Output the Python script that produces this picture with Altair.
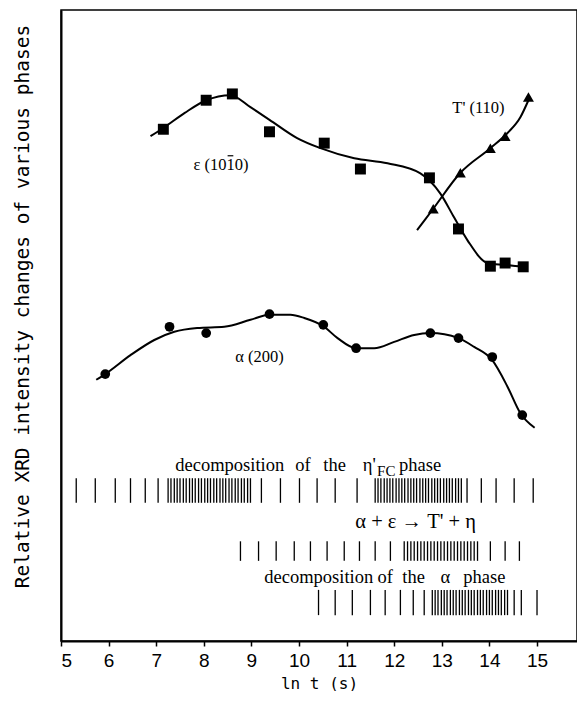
import altair as alt
import pandas as pd

# ---- epsilon (10-10) measured points (ln t, relative intensity, arbitrary units 0-100)
eps_x = [7.15, 8.05, 8.60, 9.38, 10.53, 11.29, 12.74, 13.35, 14.02, 14.33, 14.71]
eps_y = [81.1, 85.7, 86.7, 80.7, 78.9, 74.8, 73.4, 65.3, 59.4, 59.9, 59.3]
# fitted curve through epsilon data
eps_cx = [6.88, 7.15, 7.60, 8.05, 8.56, 8.98, 9.38, 9.96, 10.45, 11.16, 11.86, 12.55,
          12.97, 13.26, 13.54, 13.96, 14.31, 14.73]
eps_cy = [80.0, 81.3, 83.7, 85.7, 86.5, 84.6, 82.6, 79.7, 78.1, 76.5, 75.7, 74.1,
          70.9, 67.1, 63.5, 59.9, 59.6, 59.3]

# ---- T' (110)
tp_x = [12.82, 13.39, 14.02, 14.33, 14.82]
tp_y = [68.5, 74.2, 78.1, 80.0, 86.2]
tp_cx = [12.48, 12.82, 13.39, 14.02, 14.38, 14.65, 14.82]
tp_cy = [65.1, 68.5, 74.2, 78.1, 80.5, 83.0, 85.7]

# ---- alpha (200)
al_x = [5.93, 7.28, 8.05, 9.38, 10.51, 11.20, 12.76, 13.35, 14.06, 14.69]
al_y = [42.3, 49.8, 48.8, 51.8, 50.1, 46.4, 48.8, 48.0, 45.0, 35.8]
al_cx = [5.74, 5.93, 6.46, 6.96, 7.38, 7.86, 8.43, 8.98, 9.38, 9.82, 10.11, 10.51,
         10.81, 11.20, 11.58, 12.00, 12.42, 12.76, 13.35, 13.68, 14.06, 14.38, 14.65, 14.95]
al_cy = [41.4, 42.3, 45.3, 47.7, 49.0, 49.6, 49.8, 50.9, 51.7, 51.7, 51.2, 49.9,
         48.0, 46.4, 46.4, 47.4, 48.5, 48.8, 48.0, 46.6, 44.5, 40.3, 36.1, 33.8]

# ---- process "barcode" rows: x positions of each vertical stroke
row1_x = [5.32, 5.72, 6.14, 6.46, 6.77, 7.04,
          7.25, 7.31, 7.38, 7.44, 7.50, 7.57, 7.63, 7.70, 7.76, 7.82, 7.89, 7.95, 8.02, 8.08,
          8.14, 8.21, 8.27, 8.34, 8.40, 8.46, 8.53, 8.59, 8.66, 8.72, 8.79, 8.85, 8.92, 8.98,
          9.21, 9.61, 10.01, 10.38, 10.76, 11.22,
          11.60, 11.66, 11.72, 11.79, 11.85, 11.91, 11.97, 12.04, 12.10, 12.16, 12.22, 12.29,
          12.35, 12.41, 12.47, 12.54, 12.60, 12.66, 12.72, 12.79, 12.85, 12.91, 12.97, 13.04,
          13.10, 13.16, 13.22, 13.29, 13.35, 13.41,
          13.53, 13.83, 14.14, 14.52, 14.92]
row2_x = [8.77, 9.15, 9.52, 9.90, 10.24, 10.59, 10.95, 11.27, 11.60, 11.92, 12.21,
          12.28, 12.35, 12.42, 12.49, 12.56, 12.63, 12.70, 12.77, 12.84, 12.91, 12.98,
          13.05, 13.12, 13.19, 13.26, 13.33, 13.40, 13.47, 13.54, 13.61, 13.68, 13.75,
          14.02, 14.33, 14.63]
row3_x = [10.41, 10.76, 11.12, 11.50, 11.81, 12.13, 12.40, 12.63,
          12.80, 12.86, 12.92, 12.99, 13.05, 13.11, 13.18, 13.24, 13.30, 13.37, 13.43, 13.49,
          13.56, 13.62, 13.68, 13.75, 13.81, 13.87, 13.94, 14.00, 14.06, 14.13, 14.19, 14.25,
          14.32, 14.38, 14.52, 14.67, 15.00]
row_lo = [21.9, 12.7, 4.1]
row_hi = [25.8, 15.8, 8.1]

x_ticks = [5, 6, 7, 8, 9, 10, 11, 12, 13, 14, 15]

# ---- annotation texts
curve_labels = ["\u03b5 (1010)", "T' (110)", "\u03b1 (200)"]
curve_lab_x = [8.36, 13.77, 9.17]
curve_lab_y = [75.4, 84.5, 45.0]
# bar over the second "1" of (10-10)
bar_x = [8.50]
bar_x2 = [8.62]
bar_y = [76.9]

# row captions, word by word (the original has very wide word spacing)
words = ["decomposition", "of", "the", "\u03b7'", "phase",
         "decomposition", "of", "the", "\u03b1", "phase"]
words_x = [7.40, 9.92, 10.51, 11.34, 12.10,
           9.27, 11.65, 12.17, 12.97, 13.45]
words_y = [27.9, 27.9, 27.9, 27.9, 27.9,
           10.1, 10.1, 10.1, 10.1, 10.1]
sub_text = ["FC"]
sub_x = [11.64]
sub_y = [27.0]
center_texts = ["\u03b1 + \u03b5 \u2192 T' + \u03b7"]
center_x = [12.45]
center_y = [18.9]

# ---------------------------------------------------------------
xs = alt.Scale(domain=[5, 15.84], nice=False, zero=False)
ys = alt.Scale(domain=[0, 100], nice=False, zero=False)

X = alt.X("x:Q", scale=xs,
          axis=alt.Axis(values=x_ticks, title="ln t (s)", grid=False, format="d",
                        labelFont="Liberation Sans", labelFontSize=19, labelColor="black",
                        labelPadding=5, tickSize=5, tickWidth=1.5, tickColor="black",
                        domainColor="black", domainWidth=2,
                        titleFont="DejaVu Sans Mono", titleFontSize=16, titleFontWeight="normal",
                        titleColor="black", titlePadding=5))
Y = alt.Y("y:Q", scale=ys,
          axis=alt.Axis(labels=False, ticks=False, grid=False,
                        title="Relative XRD intensity changes of various phases",
                        domainColor="black", domainWidth=2,
                        titleFont="DejaVu Sans Mono", titleFontSize=19.5, titleFontWeight="normal",
                        titleColor="black", titlePadding=29, titleY=296))

eps_pts = pd.DataFrame({"x": eps_x, "y": eps_y})
eps_cur = pd.DataFrame({"x": eps_cx, "y": eps_cy})
tp_pts = pd.DataFrame({"x": tp_x, "y": tp_y})
tp_cur = pd.DataFrame({"x": tp_cx, "y": tp_cy})
al_pts = pd.DataFrame({"x": al_x, "y": al_y})
al_cur = pd.DataFrame({"x": al_cx, "y": al_cy})

rows = []
for i, xsr in enumerate([row1_x, row2_x, row3_x]):
    for v in xsr:
        rows.append({"x": v, "y": row_lo[i], "y2": row_hi[i]})
bars = pd.DataFrame(rows)

lab_df = pd.DataFrame({"x": curve_lab_x, "y": curve_lab_y, "t": curve_labels})
ovl_df = pd.DataFrame({"x": bar_x, "x2": bar_x2, "y": bar_y})
words_df = pd.DataFrame({"x": words_x, "y": words_y, "t": words})
sub_df = pd.DataFrame({"x": sub_x, "y": sub_y, "t": sub_text})
cen_df = pd.DataFrame({"x": center_x, "y": center_y, "t": center_texts})

line_kw = dict(color="black", strokeWidth=2, interpolate="monotone")

layers = [
    alt.Chart(eps_cur).mark_line(**line_kw).encode(x=X, y=Y),
    alt.Chart(tp_cur).mark_line(**line_kw).encode(x="x:Q", y="y:Q"),
    alt.Chart(al_cur).mark_line(**line_kw).encode(x="x:Q", y="y:Q"),
    alt.Chart(eps_pts).mark_point(shape="square", filled=True, size=120, color="black", opacity=1)
        .encode(x="x:Q", y="y:Q"),
    alt.Chart(tp_pts).mark_point(shape="triangle-up", filled=True, size=120, color="black", opacity=1)
        .encode(x="x:Q", y="y:Q"),
    alt.Chart(al_pts).mark_circle(size=95, color="black", opacity=1)
        .encode(x="x:Q", y="y:Q"),
    alt.Chart(bars).mark_rule(color="black", strokeWidth=1.3)
        .encode(x="x:Q", y="y:Q", y2="y2:Q"),
    alt.Chart(lab_df).mark_text(font="Liberation Serif", fontSize=16.5, color="black", align="center",
                                baseline="middle").encode(x="x:Q", y="y:Q", text="t:N"),
    alt.Chart(ovl_df).mark_rule(color="black", strokeWidth=1.2)
        .encode(x="x:Q", x2="x2:Q", y="y:Q"),
    alt.Chart(words_df).mark_text(font="Liberation Serif", fontSize=18.5, color="black", align="left",
                                  baseline="middle").encode(x="x:Q", y="y:Q", text="t:N"),
    alt.Chart(sub_df).mark_text(font="Liberation Serif", fontSize=15, color="black", align="left",
                                baseline="middle").encode(x="x:Q", y="y:Q", text="t:N"),
    alt.Chart(cen_df).mark_text(font="Liberation Serif", fontSize=20.5, color="black", align="center",
                                baseline="middle").encode(x="x:Q", y="y:Q", text="t:N"),
]

chart = alt.layer(*layers).properties(
    width=516, height=631,
    padding={"left": 4, "top": 2, "right": 0, "bottom": 0},
    background="white",
).configure_view(stroke="black", strokeWidth=1.5)

chart.save("out.html", embed_options={"renderer": "svg", "actions": False})
